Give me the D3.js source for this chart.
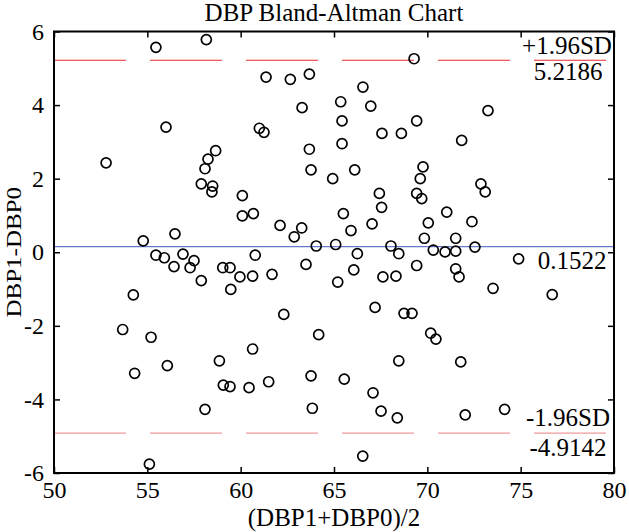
<!DOCTYPE html>
<html><head><meta charset="utf-8">
<script src="https://cdn.jsdelivr.net/npm/d3@7"></script>
<style>body{margin:0;background:#fff}svg{display:block}text{font-family:"Liberation Serif","Times New Roman",serif}</style>
</head><body>
<script>
const xValues=[55.46,58.16,56.00,52.79,58.66,58.25,58.09,57.89,58.50,58.46,60.09,60.09,60.68,56.48,54.78,55.46,55.91,56.91,57.50,56.43,57.29,57.89,59.04,59.43,59.96,60.64,59.47,54.25,53.68,55.20,54.32,56.07,58.86,59.07,59.43,60.45,60.64,58.09,55.11,69.29,61.36,62.66,63.68,66.55,65.36,66.97,63.29,65.43,69.43,61.00,61.25,67.57,68.61,65.43,63.68,63.77,66.11,64.93,69.77,69.62,73.25,71.84,67.43,67.55,69.43,69.70,65.50,62.11,63.27,62.87,65.91,67.04,70.05,69.84,64.05,65.09,68.05,70.32,60.78,66.25,68.47,63.50,66.06,69.43,61.68,65.20,67.62,68.32,67.20,68.75,69.18,62.31,64.18,70.18,70.46,72.87,73.10,71.04,72.39,71.52,72.55,70.95,71.52,71.52,71.70,74.89,73.52,76.69,61.50,63.77,63.84,65.55,67.09,67.52,68.39,68.47,66.54,71.79,72.03,74.14];
const yValues=[5.57,5.78,3.40,2.43,2.76,2.53,2.27,1.86,1.80,1.64,1.54,0.99,1.05,0.50,0.31,-0.08,-0.15,-0.05,-0.23,-0.39,-0.42,-0.77,-0.42,-0.42,-0.67,-0.65,-1.01,-1.16,-2.10,-2.31,-3.29,-3.08,-2.95,-3.61,-3.65,-3.68,-2.63,-4.27,-5.76,5.26,4.76,4.70,4.84,4.49,4.09,3.97,3.93,3.57,3.57,3.37,3.26,3.23,3.23,2.95,2.80,2.24,2.24,2.00,2.32,2.00,3.85,3.04,1.60,1.22,1.60,1.46,1.05,0.73,0.66,0.42,0.59,0.77,0.80,0.38,0.17,0.21,0.17,0.06,-0.08,-0.04,-0.04,-0.33,-0.48,-0.36,-0.60,-0.81,-0.67,-0.65,-1.50,-1.66,-1.66,-1.69,-2.24,-2.20,-2.36,1.86,1.64,1.09,0.83,0.38,0.14,0.01,0.03,-0.45,-0.67,-0.18,-0.98,-1.15,-3.52,-3.36,-4.24,-3.45,-3.82,-4.32,-4.50,-2.95,-5.54,-2.98,-4.42,-4.27];
const meanDiff=0.1522, upperLoA=5.2186, lowerLoA=-4.9142;
const xTicks=[50,55,60,65,70,75,80];
const yTicks=[-6,-4,-2,0,2,4,6];
const title="DBP Bland-Altman Chart", xLabel="(DBP1+DBP0)/2", yLabel="DBP1-DBP0";
const upperLabel="+1.96SD", lowerLabel="-1.96SD";

const W=629,H=532,m={l:54,r:15,t:31.5,b:59};
const svg=d3.select("body").append("svg").attr("width",W).attr("height",H);
const x=d3.scaleLinear().domain([50,80]).range([m.l,W-m.r]);
const y=d3.scaleLinear().domain([-6,6]).range([H-m.b,m.t]);
const fs=25, tfs=24;
const fmt=v=>v.toFixed(4);

// reference lines
svg.append("line").attr("x1",x(50)).attr("x2",x(80)).attr("y1",y(upperLoA)).attr("y2",y(upperLoA))
  .attr("stroke","#e8262a").attr("stroke-width",1).attr("stroke-dasharray","72,24");
svg.append("line").attr("x1",x(50)).attr("x2",x(80)).attr("y1",y(lowerLoA)).attr("y2",y(lowerLoA))
  .attr("stroke","#f29a9a").attr("stroke-width",1.2).attr("stroke-dasharray","72,24");
svg.append("line").attr("x1",x(50)).attr("x2",x(80)).attr("y1",y(meanDiff)).attr("y2",y(meanDiff))
  .attr("stroke","#6677cc").attr("stroke-width",1.2);

// points
svg.append("g").selectAll("circle").data(xValues.map((v,i)=>[v,yValues[i]])).join("circle")
  .attr("cx",d=>x(d[0])).attr("cy",d=>y(d[1])).attr("r",5)
  .attr("fill","none").attr("stroke","#000").attr("stroke-width",1.7);

// axes
const ax=g=>{g.selectAll(".domain").remove();g.selectAll("line").attr("stroke","#000").attr("stroke-width",1.5);
  g.selectAll("text").attr("font-size",tfs).attr("fill","#000").style("font-family",'"Liberation Serif",serif');};
svg.append("g").attr("transform",`translate(0,${H-m.b})`)
  .call(d3.axisBottom(x).tickValues(xTicks).tickFormat(d=>String(d)).tickSizeInner(-6).tickSizeOuter(0).tickPadding(8)).call(ax);
svg.append("g").attr("transform",`translate(0,${m.t})`)
  .call(d3.axisTop(x).tickValues(xTicks).tickSizeInner(-6).tickSizeOuter(0).tickFormat("")).call(ax);
svg.append("g").attr("transform",`translate(${m.l},0)`)
  .call(d3.axisLeft(y).tickValues(yTicks).tickFormat(d=>String(d)).tickSizeInner(-6).tickSizeOuter(0).tickPadding(10)).call(ax);
svg.append("g").attr("transform",`translate(${W-m.r},0)`)
  .call(d3.axisRight(y).tickValues(yTicks).tickSizeInner(-6).tickSizeOuter(0).tickFormat("")).call(ax);
svg.append("rect").attr("x",x(50)).attr("y",y(6)).attr("width",x(80)-x(50)).attr("height",y(-6)-y(6))
  .attr("fill","none").attr("stroke","#000").attr("stroke-width",2);

// labels
const T=(t,xx,yy)=>svg.append("text").text(t).attr("x",xx).attr("y",yy)
  .attr("text-anchor","middle").attr("font-size",fs).attr("fill","#000");
T(title,(x(50)+x(80))/2,21);
T(xLabel,(x(50)+x(80))/2,526);
svg.append("text").text(yLabel)
  .attr("transform",`translate(21,${(y(6)+y(-6))/2}) rotate(-90) scale(1,0.88)`)
  .attr("text-anchor","middle").attr("font-size",fs).attr("fill","#000");
T(upperLabel,567,54);
T(fmt(upperLoA),568,80);
T(fmt(meanDiff),572,269);
T(lowerLabel,568,426);
T(fmt(lowerLoA),568,456);
</script>
</body></html>
